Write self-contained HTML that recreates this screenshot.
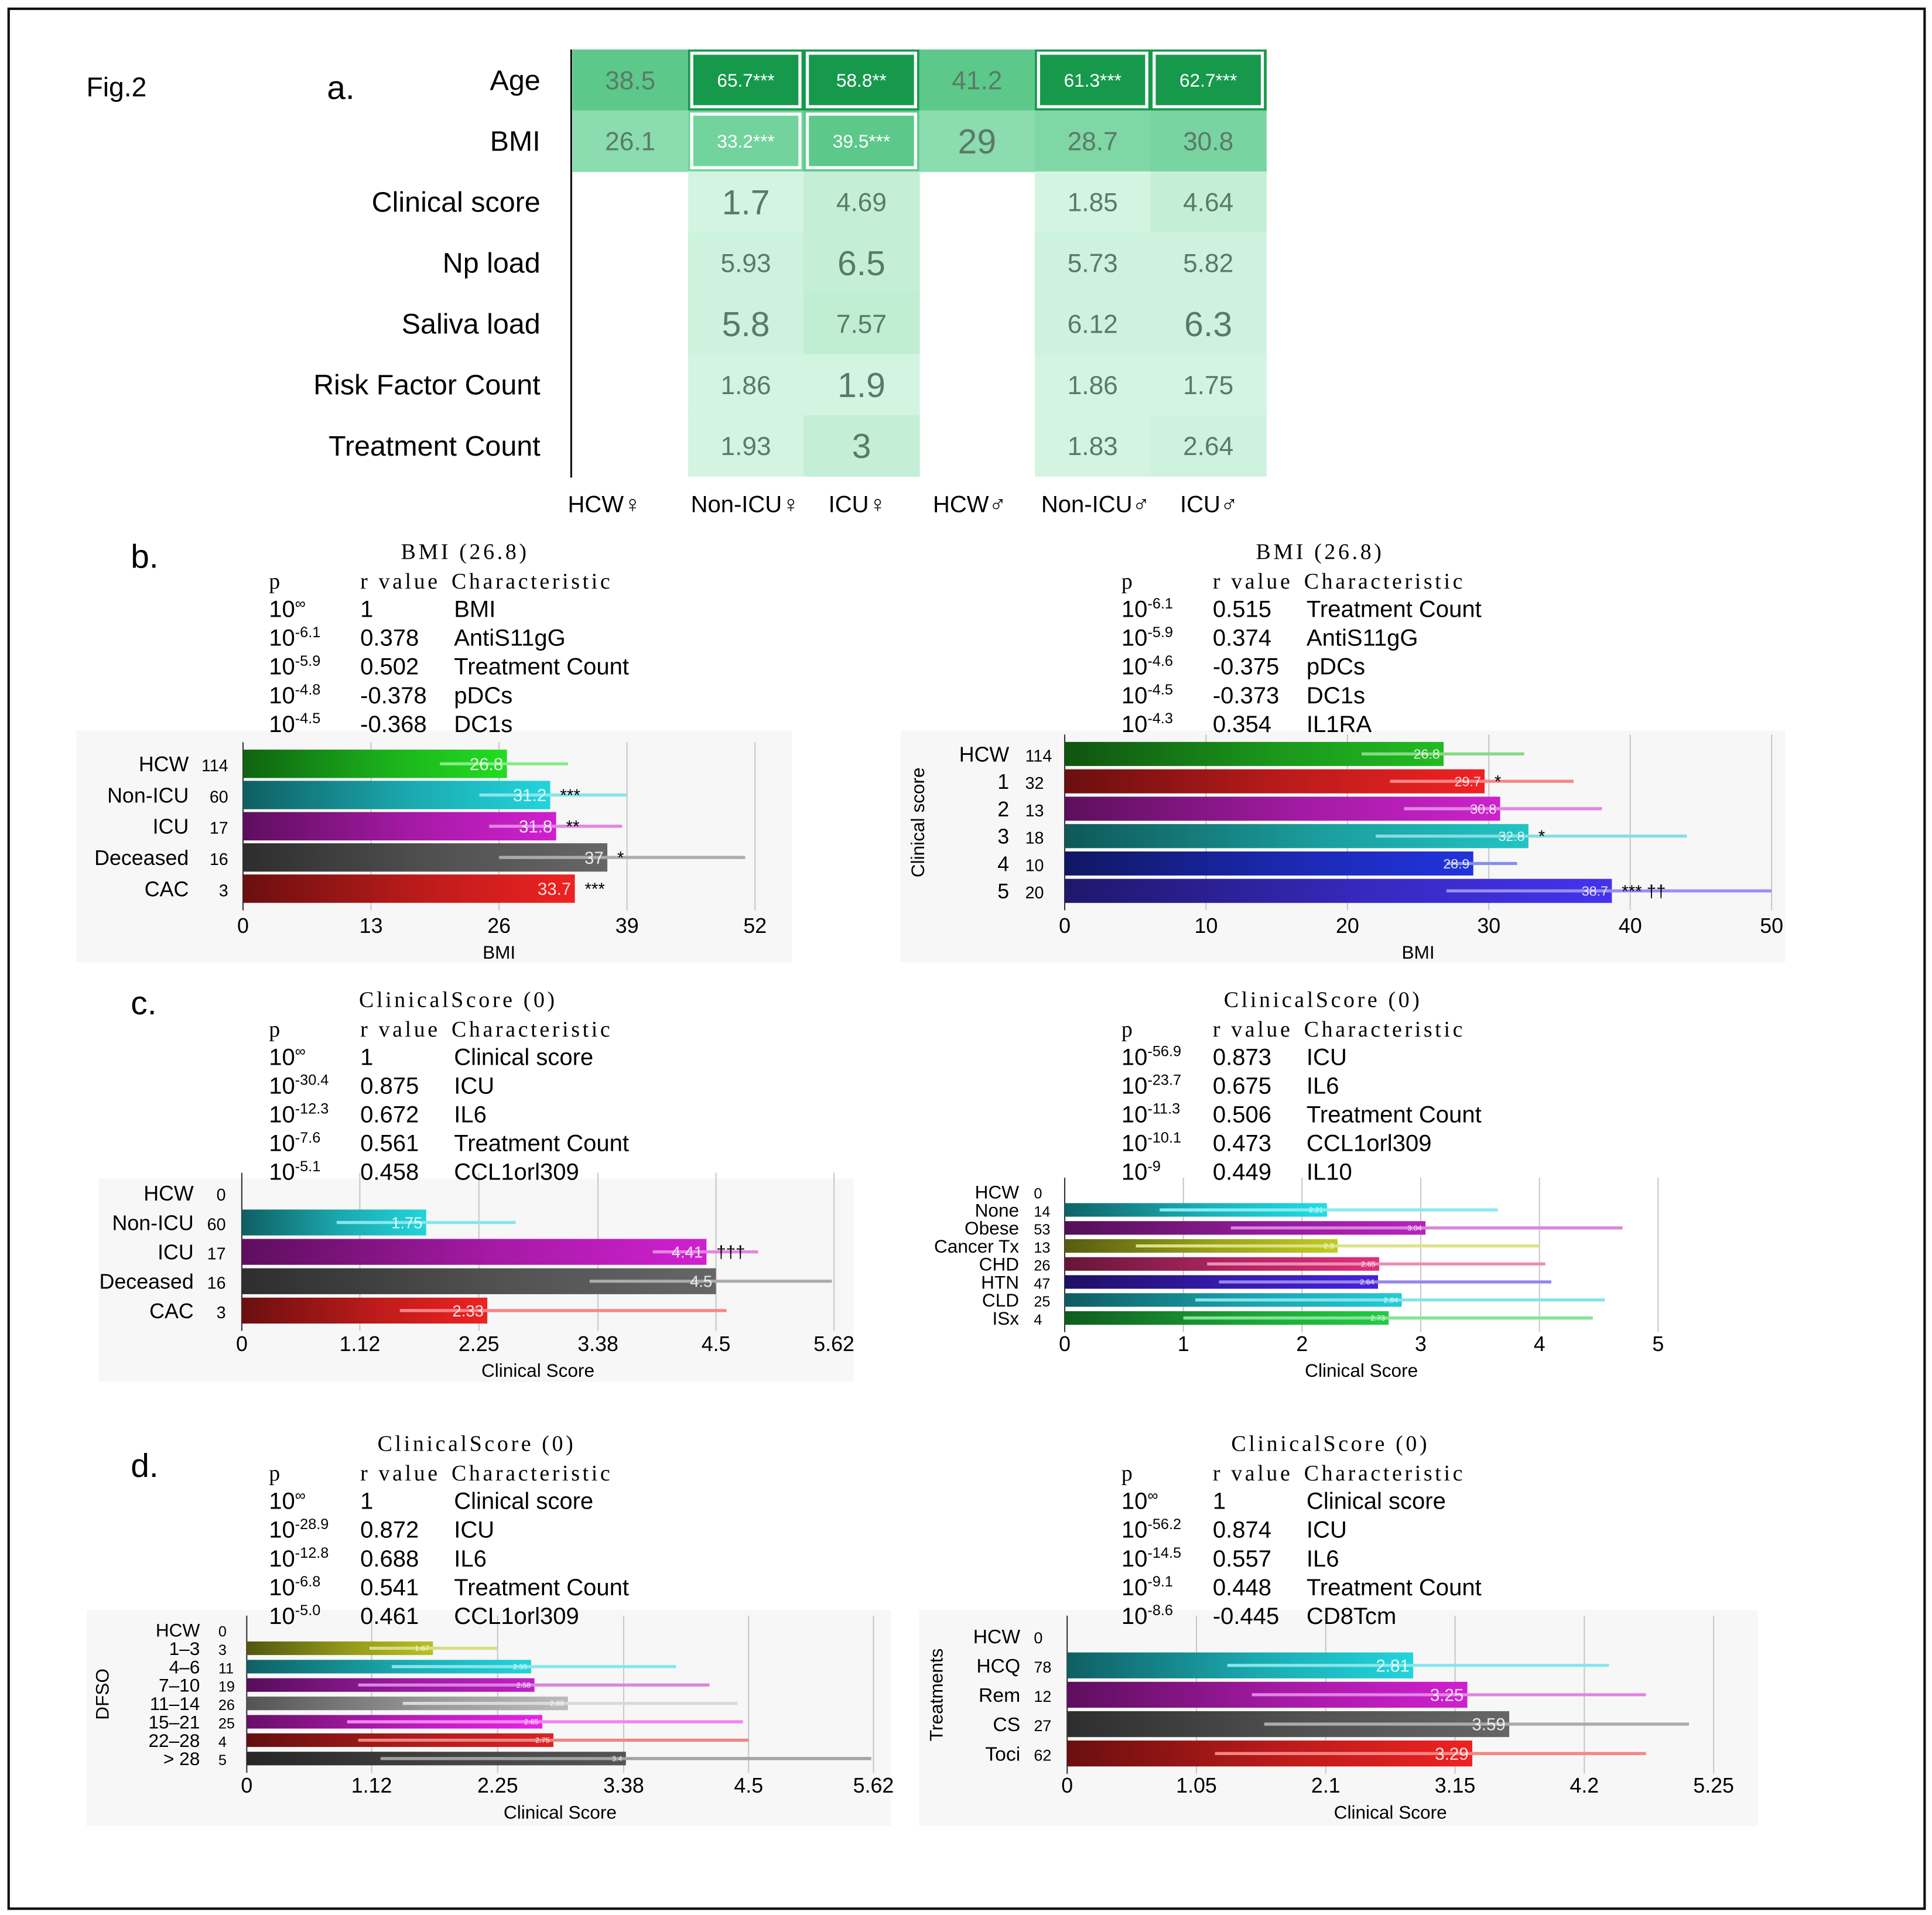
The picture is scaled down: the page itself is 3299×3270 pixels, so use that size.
<!DOCTYPE html>
<html><head><meta charset="utf-8"><style>
html,body{margin:0;padding:0;background:#fff}
svg{display:block}
text{font-family:"Liberation Sans",sans-serif}
.serif{font-family:"Liberation Serif",serif;letter-spacing:2.2px}
</style></head><body>
<svg id="fig" xmlns="http://www.w3.org/2000/svg" width="3299" height="3270" viewBox="0 0 1566 1552">
<rect x="7" y="7" width="1553" height="1540" fill="#fff" stroke="#111" stroke-width="2"/>
<text x="70" y="78" font-size="22">Fig.2</text>
<text x="265" y="80" font-size="27">a.</text>
<text x="106" y="460" font-size="27">b.</text>
<text x="106" y="822" font-size="27">c.</text>
<text x="106" y="1197" font-size="27">d.</text>
<g id="heat"></g>
<g id="charts"></g>
<g id="tables"></g>
</svg>
<script>
const NS="http://www.w3.org/2000/svg";
// ---- heatmap data ----
const hmRows=["Age","BMI","Clinical score","Np load","Saliva load","Risk Factor Count","Treatment Count"];
const hmCols=["HCW♀","Non-ICU♀","ICU♀","HCW♂","Non-ICU♂","ICU♂"];
const hmVals=[
["38.5","65.7***","58.8**","41.2","61.3***","62.7***"],
["26.1","33.2***","39.5***","29","28.7","30.8"],
["","1.7","4.69","","1.85","4.64"],
["","5.93","6.5","","5.73","5.82"],
["","5.8","7.57","","6.12","6.3"],
["","1.86","1.9","","1.86","1.75"],
["","1.93","3","","1.83","2.64"]];
const hmFill=[
["#5cc98a","#17994c","#17994c","#5cc98a","#17994c","#17994c"],
["#8bdcaf","#72d39d","#5cc98a","#8bdcaf","#7fd7a6","#78d4a1"],
["","#d3f4e1","#c4efd6","","#d3f4e1","#c4efd6"],
["","#cdf2dd","#c4efd6","","#cdf2dd","#cdf2dd"],
["","#cdf2dd","#c0eed3","","#cdf2dd","#cdf2dd"],
["","#d3f4e1","#d3f4e1","","#d3f4e1","#d3f4e1"],
["","#d3f4e1","#c4efd6","","#d3f4e1","#cdf2dd"]];
const hmBig=[[0,0,0,0,0,0],[0,0,0,1,0,0],[0,1,0,0,0,0],[0,0,1,0,0,0],[0,1,0,0,0,1],[0,0,1,0,0,0],[0,0,1,0,0,0]];
const hmBox=[[0,1,1,0,1,1],[0,1,1,0,0,0]];

function el(tag,attrs,parent,txt){const e=document.createElementNS(NS,tag);for(const k in attrs)e.setAttribute(k,attrs[k]);if(txt!==undefined)e.textContent=txt;parent.appendChild(e);return e;}

(function(){
 const g=document.getElementById('heat');
 const x0=464,cw=93.7,y0=40,rh=49.4;
 hmRows.forEach((r,i)=>{
  const t=el('text',{x:438,y:y0+i*rh+rh/2+8,'font-size':23,'text-anchor':'end'},g,r);
  
  
  hmCols.forEach((c,j)=>{
   if(!hmFill[i][j])return;
   const x=x0+j*cw,y=y0+i*rh;
   const rc=el('rect',{x:x,y:y,width:cw+0.5,height:rh+0.5,fill:hmFill[i][j]},g);
   
   
   if(hmBox[i]&&hmBox[i][j]){const b=el('rect',{x:x+3,y:y+3,width:cw-6,height:rh-6,fill:'none',stroke:'#fff','stroke-width':2.5},g);
    
    }
   const star=hmVals[i][j].indexOf('*')>=0;
   const fs=hmBig[i][j]?28:(star?15:21);
   const tt=el('text',{x:x+cw/2,y:y+rh/2+fs*0.36,'font-size':fs,'text-anchor':'middle',fill:star?'#fff':'#5a7a68'},g,hmVals[i][j]);
   
   
  });
 });
 const ax=el('line',{x1:463,y1:40,x2:463,y2:387,stroke:'#111','stroke-width':1.5},g);
 
 
 const cx=[490,604,695,786,888,980];
 hmCols.forEach((c,j)=>{const t=el('text',{x:cx[j],y:415,'font-size':19,'text-anchor':'middle'},g,c);
  
  });
})();

// ---- tables ----
const tbBL_p=["∞","-6.1","-5.9","-4.8","-4.5"],tbBL_r=["1","0.378","0.502","-0.378","-0.368"],tbBL_c=["BMI","AntiS11gG","Treatment Count","pDCs","DC1s"];
const tbBR_p=["-6.1","-5.9","-4.6","-4.5","-4.3"],tbBR_r=["0.515","0.374","-0.375","-0.373","0.354"],tbBR_c=["Treatment Count","AntiS11gG","pDCs","DC1s","IL1RA"];
const tbCL_p=["∞","-30.4","-12.3","-7.6","-5.1"],tbCL_r=["1","0.875","0.672","0.561","0.458"],tbCL_c=["Clinical score","ICU","IL6","Treatment Count","CCL1orl309"];
const tbCR_p=["-56.9","-23.7","-11.3","-10.1","-9"],tbCR_r=["0.873","0.675","0.506","0.473","0.449"],tbCR_c=["ICU","IL6","Treatment Count","CCL1orl309","IL10"];
const tbDL_p=["∞","-28.9","-12.8","-6.8","-5.0"],tbDL_r=["1","0.872","0.688","0.541","0.461"],tbDL_c=["Clinical score","ICU","IL6","Treatment Count","CCL1orl309"];
const tbDR_p=["∞","-56.2","-14.5","-9.1","-8.6"],tbDR_r=["1","0.874","0.557","0.448","-0.445"],tbDR_c=["Clinical score","ICU","IL6","Treatment Count","CD8Tcm"];

function table(x,y,title,tx,P,R,C,name){
 const g=el('g',{},document.getElementById('tables'));
 
 
 el('text',{x:tx,y:y,'font-size':18,'class':'serif'},g,title);
 el('text',{x:x,y:y+24,'font-size':18,'class':'serif'},g,'p');
 el('text',{x:x+74,y:y+24,'font-size':18,'class':'serif'},g,'r value');
 el('text',{x:x+148,y:y+24,'font-size':18,'class':'serif'},g,'Characteristic');
 for(let i=0;i<5;i++){
  const yy=y+47+i*23.3;
  const t=el('text',{x:x,y:yy,'font-size':19},g,'10');
  el('tspan',{dy:-7,'font-size':12},t,P[i]);
  el('text',{x:x+74,y:yy,'font-size':19},g,R[i]);
  el('text',{x:x+150,y:yy,'font-size':19},g,C[i]);
 }
}
table(218,453,'BMI (26.8)',325,tbBL_p,tbBL_r,tbBL_c,'table-b-left');
table(909,453,'BMI (26.8)',1018,tbBR_p,tbBR_r,tbBR_c,'table-b-right');
table(218,816,'ClinicalScore (0)',291,tbCL_p,tbCL_r,tbCL_c,'table-c-left');
table(909,816,'ClinicalScore (0)',992,tbCR_p,tbCR_r,tbCR_c,'table-c-right');
table(218,1176,'ClinicalScore (0)',306,tbDL_p,tbDL_r,tbDL_c,'table-d-left');
table(909,1176,'ClinicalScore (0)',998,tbDR_p,tbDR_r,tbDR_c,'table-d-right');

// ---- bar chart data ----
const bL_cats=["HCW","Non-ICU","ICU","Deceased","CAC"],bL_n=["114","60","17","16","3"],bL_vals=[26.8,31.2,31.8,37,33.7],bL_lo=[20,24,25,26,33.7],bL_hi=[33,39,38.5,51,33.7],bL_sig=["","***","**","*","***"],bL_ticks=[0,13,26,39,52];
const bR_cats=["HCW","1","2","3","4","5"],bR_n=["114","32","13","18","10","20"],bR_vals=[26.8,29.7,30.8,32.8,28.9,38.7],bR_lo=[21,23,24,22,27,27],bR_hi=[32.5,36,38,44,32,50],bR_sig=["","*","","*","","*** ††"],bR_ticks=[0,10,20,30,40,50];
const cL_cats=["HCW","Non-ICU","ICU","Deceased","CAC"],cL_n=["0","60","17","16","3"],cL_vals=[0,1.75,4.41,4.5,2.33],cL_lo=[0,0.9,3.9,3.3,1.5],cL_hi=[0,2.6,4.9,5.6,4.6],cL_sig=["","","†††","",""],cL_ticks=[0,1.12,2.25,3.38,4.5,5.62];
const cR_cats=["HCW","None","Obese","Cancer Tx","CHD","HTN","CLD","ISx"],cR_n=["0","14","53","13","26","47","25","4"],cR_vals=[0,2.21,3.04,2.3,2.65,2.64,2.84,2.73],cR_lo=[0,0.8,1.4,0.6,1.2,1.3,1.1,1.0],cR_hi=[0,3.65,4.7,4.0,4.05,4.1,4.55,4.45],cR_sig=["","","","","","","",""],cR_ticks=[0,1,2,3,4,5];
const dL_cats=["HCW","1–3","4–6","7–10","11–14","15–21","22–28","> 28"],dL_n=["0","3","11","19","26","25","4","5"],dL_vals=[0,1.67,2.55,2.58,2.88,2.65,2.75,3.4],dL_lo=[0,1.1,1.3,1.0,1.4,0.9,1.0,1.2],dL_hi=[0,2.25,3.85,4.15,4.4,4.45,4.5,5.6],dL_sig=["","","","","","","",""],dL_ticks=[0,1.12,2.25,3.38,4.5,5.62];
const dR_cats=["HCW","HCQ","Rem","CS","Toci"],dR_n=["0","78","12","27","62"],dR_vals=[0,2.81,3.25,3.59,3.29],dR_lo=[0,1.3,1.5,1.6,1.2],dR_hi=[0,4.4,4.7,5.05,4.7],dR_sig=["","","","",""],dR_ticks=[0,1.05,2.1,3.15,4.2,5.25];

function shade(h,f){const n=parseInt(h.slice(1),16);let r=n>>16,g=(n>>8)&255,b=n&255;
 if(f<0){r*=1+f;g*=1+f;b*=1+f;}else{r+=(255-r)*f;g+=(255-g)*f;b+=(255-b)*f;}
 return 'rgb('+[r,g,b].map(v=>Math.round(v)).join(',')+')';}
let gid=0;
function chart(o){
 const root=document.getElementById('charts');
 const g=el('g',{},root);
 
 
 const bg=el('rect',{x:o.bg[0],y:o.bg[1],width:o.bg[2],height:o.bg[3],fill:'#f7f7f7'},g);
 
 
 const max=o.ticks[o.ticks.length-1];
 const X=v=>o.x0+(v/max)*(o.x1-o.x0);
 const Y=i=>o.y0+i*o.step;
 const top=Y(0)-o.h/2-6,bot=Y(o.cats.length-1)+o.h/2+6;
 o.ticks.forEach(t=>{
  if(t>0){const l=el('line',{x1:X(t),y1:top,x2:X(t),y2:bot,stroke:'#c8c8c8','stroke-width':1},g);
   
   }
  const tl=el('text',{x:X(t),y:o.tickY,'font-size':17,'text-anchor':'middle'},g,String(t));
  
  
 });
 const ax=el('line',{x1:o.x0,y1:top,x2:o.x0,y2:bot,stroke:'#333','stroke-width':1},g);
 
 
 const xt=el('text',{x:(o.x0+o.x1)/2,y:o.tickY+21,'font-size':15,'text-anchor':'middle'},g,o.xlabel);
 
 
 if(o.ylabel){const yt=el('text',{x:0,y:0,'font-size':15,'text-anchor':'middle',transform:'translate('+o.ylx+','+((top+bot)/2)+') rotate(-90)'},g,o.ylabel);
  
  }
 o.cats.forEach((c,i)=>{
  const y=Y(i),col=o.colors[i];
  const cl=el('text',{x:o.labX,y:y+o.fs*0.36,'font-size':o.fs,'text-anchor':'end'},g,c);
  
  
  const nl=el('text',{x:o.nX,y:y+o.fs*0.36,'font-size':o.fs*0.8,'text-anchor':o.nAnchor},g,o.n[i]);
  
  
  if(o.vals[i]<=0)return;
  const id='gr'+(gid++);
  const lg=el('linearGradient',{id:id,x1:0,x2:1,y1:0,y2:0},g);
  el('stop',{offset:0,'stop-color':shade(col,-0.55)},lg);
  el('stop',{offset:0.55,'stop-color':shade(col,-0.2)},lg);
  el('stop',{offset:1,'stop-color':col},lg);
  const b=el('rect',{x:o.x0,y:y-o.h/2,width:X(o.vals[i])-o.x0,height:o.h,fill:'url(#'+id+')'},g);
  
  
  if(o.hi[i]>o.lo[i]){
   const e=el('line',{x1:X(o.lo[i]),y1:y,x2:X(o.hi[i]),y2:y,stroke:shade(col,0.45),'stroke-width':2.5},g);
   
   }
  const vl=el('text',{x:X(o.vals[i])-3,y:y+o.vfs*0.36,'font-size':o.vfs,'text-anchor':'end',fill:'#fff','fill-opacity':0.85},g,String(o.vals[i]));
  
  
  if(o.sig[i]){const s=el('text',{x:X(o.vals[i])+8,y:y+5,'font-size':14},g,o.sig[i]);
   
   }
 });
}
chart({name:'chart-b-left',cats:bL_cats,n:bL_n,vals:bL_vals,lo:bL_lo,hi:bL_hi,sig:bL_sig,ticks:bL_ticks,
 colors:['#22dd22','#22d4dc','#d020d0','#666666','#ee2222'],bg:[62,592,580,188],x0:197,x1:612,y0:619,step:25.3,h:23,
 tickY:756,xlabel:'BMI',labX:153,nX:185,nAnchor:'end',fs:17,vfs:14});
chart({name:'chart-b-right',cats:bR_cats,n:bR_n,vals:bR_vals,lo:bR_lo,hi:bR_hi,sig:bR_sig,ticks:bR_ticks,
 colors:['#22bb22','#ee2222','#cc22cc','#22c4c4','#2233dd','#4433ee'],bg:[730,592,717,188],x0:863,x1:1436,y0:611,step:22.2,h:19.5,
 tickY:756,xlabel:'BMI',ylabel:'Clinical score',ylx:749,labX:818,nX:831,nAnchor:'start',fs:17,vfs:11});
chart({name:'chart-c-left',cats:cL_cats,n:cL_n,vals:cL_vals,lo:cL_lo,hi:cL_hi,sig:cL_sig,ticks:cL_ticks,
 colors:['#22dd22','#22d4dc','#d020d0','#666666','#ee2222'],bg:[80,955,612,165],x0:196,x1:676,y0:967,step:23.8,h:21,
 tickY:1095,xlabel:'Clinical Score',labX:157,nX:183,nAnchor:'end',fs:17,vfs:13});
chart({name:'chart-c-right',cats:cR_cats,n:cR_n,vals:cR_vals,lo:cR_lo,hi:cR_hi,sig:cR_sig,ticks:cR_ticks,
 colors:['#22dd22','#22dde6','#b822c0','#c0cc22','#e0307a','#4422dd','#22ccd8','#22cc44'],bg:[740,955,0,0],x0:863,x1:1344,y0:966,step:14.6,h:11,
 tickY:1095,xlabel:'Clinical Score',labX:826,nX:838,nAnchor:'start',fs:15,vfs:6});
chart({name:'chart-d-left',cats:dL_cats,n:dL_n,vals:dL_vals,lo:dL_lo,hi:dL_hi,sig:dL_sig,ticks:dL_ticks,
 colors:['#22dd22','#b8c022','#22d4dc','#c020c8','#bbbbbb','#e822e8','#dd2222','#555555'],bg:[70,1305,652,175],x0:200,x1:708,y0:1321,step:14.9,h:11,
 tickY:1453,xlabel:'Clinical Score',ylabel:'DFSO',ylx:88,labX:162,nX:177,nAnchor:'start',fs:15,vfs:6});
chart({name:'chart-d-right',cats:dR_cats,n:dR_n,vals:dR_vals,lo:dR_lo,hi:dR_hi,sig:dR_sig,ticks:dR_ticks,
 colors:['#22dd22','#22d4dc','#d020d0','#666666','#ee2222'],bg:[745,1305,680,175],x0:865,x1:1389,y0:1326,step:23.8,h:21,
 tickY:1453,xlabel:'Clinical Score',ylabel:'Treatments',ylx:764,labX:827,nX:838,nAnchor:'start',fs:16,vfs:14});
</script>
</body></html>
